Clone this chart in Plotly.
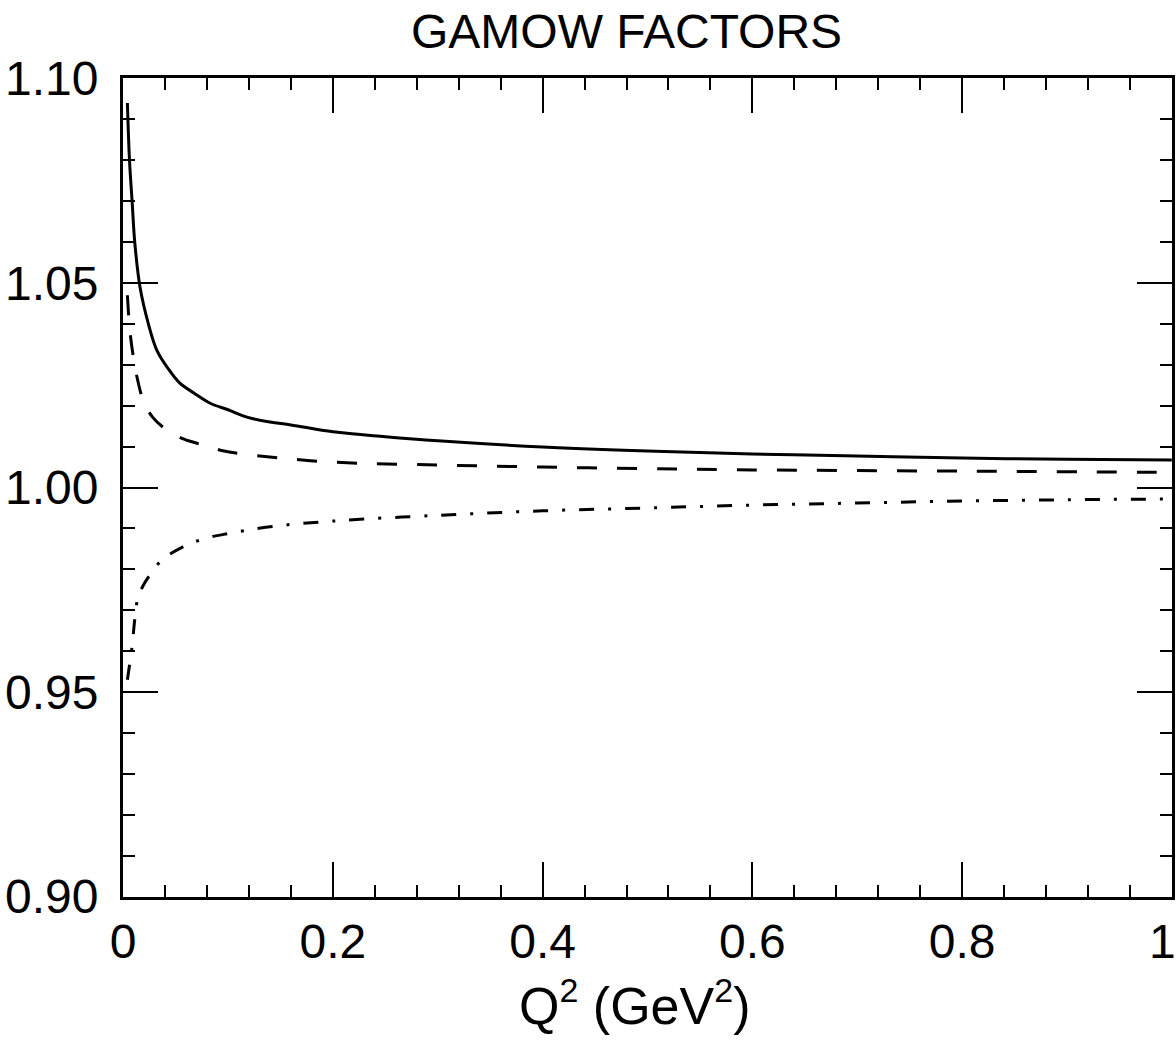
import plotly.graph_objects as go

# Data
x_solid = [0.004, 0.006, 0.0086, 0.011, 0.016, 0.024, 0.032, 0.043, 0.054, 0.068, 0.083, 0.1, 0.118,
           0.14, 0.16, 0.2, 0.25, 0.3, 0.4, 0.5, 0.6, 0.7, 0.8, 0.9, 1.0]
y_solid = [1.094, 1.080, 1.0695, 1.060, 1.049, 1.040, 1.0336, 1.029, 1.0255, 1.023, 1.0206, 1.019, 1.0172,
           1.016, 1.0153, 1.0136, 1.0124, 1.0114, 1.0099, 1.0089, 1.0082, 1.0077, 1.0072, 1.0069, 1.0067]

x_dash = [0.004, 0.0065, 0.0097, 0.014, 0.019, 0.028, 0.042, 0.058, 0.076, 0.095, 0.114, 0.15, 0.2,
          0.3, 0.4, 0.5, 0.6, 0.8, 1.0]
y_dash = [1.047, 1.038, 1.0319, 1.026, 1.0214, 1.0172, 1.014, 1.0118, 1.0104, 1.009, 1.0082, 1.0072, 1.0062,
          1.0055, 1.005, 1.0046, 1.0043, 1.004, 1.0037]

x_dashdot = [0.004, 0.0086, 0.011, 0.014, 0.019, 0.024, 0.037, 0.057, 0.076, 0.099, 0.14, 0.2, 0.3,
             0.4, 0.5, 0.6, 0.7, 0.8, 0.9, 1.0]
y_dashdot = [0.953, 0.9615, 0.9677, 0.973, 0.976, 0.9781, 0.9823, 0.9855, 0.9874, 0.9887, 0.9904, 0.9918,
             0.9932, 0.9943, 0.995, 0.9957, 0.9962, 0.9967, 0.997, 0.9972]

x_ticks = [0, 0.2, 0.4, 0.6, 0.8, 1]
x_ticklabels = ["0", "0.2", "0.4", "0.6", "0.8", "1"]
y_ticks = [0.90, 0.95, 1.00, 1.05, 1.10]
y_ticklabels = ["0.90", "0.95", "1.00", "1.05", "1.10"]

FONT = "Liberation Sans, Arial, Helvetica"

fig = go.Figure()
fig.add_trace(go.Scatter(x=x_solid, y=y_solid, mode="lines", line=dict(color="black", width=3, shape="spline")))
fig.add_trace(go.Scatter(x=x_dash, y=y_dash, mode="lines",
                         line=dict(color="black", width=3, dash="20px,20px", shape="spline")))
fig.add_trace(go.Scatter(x=x_dashdot, y=y_dashdot, mode="lines",
                         line=dict(color="black", width=3, dash="15px,14px,3px,14px", shape="spline")))

axis_common = dict(showgrid=False, zeroline=False, showline=True, linecolor="black", linewidth=3,
                   mirror="ticks", ticks="inside", tickcolor="black", tickwidth=2, ticklen=35,
                   tickfont=dict(family=FONT, size=48, color="black"), automargin=False)

# the last x label sits at the very edge of the page, so it is placed right-aligned to its tick
fig.update_xaxes(range=[-0.0002, 1.0002], tickmode="array", tickvals=x_ticks,
                 ticktext=x_ticklabels[:-1] + [""],
                 minor=dict(dtick=0.04, ticks="inside", ticklen=12, tickcolor="black", tickwidth=2),
                 **axis_common)
fig.update_yaxes(range=[0.8999, 1.1001], tickmode="array", tickvals=y_ticks, ticktext=y_ticklabels,
                 minor=dict(dtick=0.01, ticks="inside", ticklen=12, tickcolor="black", tickwidth=2),
                 ticklabelstandoff=12,
                 **axis_common)

fig.add_annotation(text=x_ticklabels[-1], xref="x", yref="paper", x=x_ticks[-1], y=0, yshift=-44, xshift=6,
                   xanchor="right", yanchor="middle", showarrow=False,
                   font=dict(family=FONT, size=48, color="black"))

fig.add_annotation(text="GAMOW FACTORS", xref="paper", yref="paper", x=0.48, y=1.0, yshift=18,
                   xanchor="center", yanchor="bottom", showarrow=False,
                   font=dict(family=FONT, size=48, color="black"))

fig.add_annotation(text="Q<sup><span style='font-size:34px'>2</span></sup> (GeV<sup><span style='font-size:34px'>2</span></sup>)",
                   xref="paper", yref="paper", x=0.488, y=0, yshift=-72,
                   xanchor="center", yanchor="top", showarrow=False,
                   font=dict(family=FONT, size=52, color="black"))

fig.update_layout(width=1176, height=1041, showlegend=False,
                  margin=dict(l=123, r=4, t=78, b=144),
                  plot_bgcolor="white", paper_bgcolor="white")

fig.write_html("out.html")
